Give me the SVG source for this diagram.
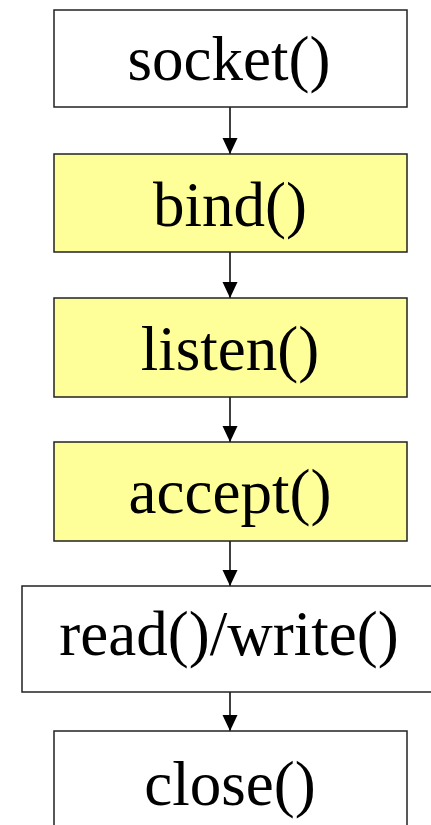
<svg xmlns="http://www.w3.org/2000/svg" width="431" height="825" viewBox="0 0 431 825">
<style>
.box{stroke:#222;stroke-width:1.5}
.w{fill:#fff}
.y{fill:#ffff99}
.t{font-family:"Liberation Serif","Times New Roman",serif;font-size:63px;fill:#000;text-anchor:middle}
.c{stroke:#000;stroke-width:1.5;fill:none;marker-end:url(#ah)}
</style>
<defs>
<marker id="ah" markerUnits="userSpaceOnUse" markerWidth="17" markerHeight="18" refX="16" refY="7.5" orient="auto">
<path d="M0,0 L16,7.5 L0,15 Z" fill="#000"/>
</marker>
</defs>
<rect width="431" height="825" fill="#fff"/>
<g id="connectors">
<line class="c" x1="230" y1="107" x2="230" y2="154"/>
<line class="c" x1="230" y1="252" x2="230" y2="298"/>
<line class="c" x1="230" y1="397" x2="230" y2="442"/>
<line class="c" x1="230" y1="541" x2="230" y2="586"/>
<line class="c" x1="230" y1="692" x2="230" y2="731"/>
</g>
<g id="socket"><rect class="box w" x="54" y="10" width="353" height="97"/><text class="t" x="229" y="80">socket()</text></g>
<g id="bind"><rect class="box y" x="54" y="154" width="353" height="98"/><text class="t" x="230" y="226">bind()</text></g>
<g id="listen"><rect class="box y" x="54" y="298" width="353" height="99"/><text class="t" x="230" y="370">listen()</text></g>
<g id="accept"><rect class="box y" x="54" y="442" width="353" height="99"/><text class="t" x="230" y="513">accept()</text></g>
<g id="readwrite"><rect class="box w" x="22" y="586" width="415" height="106"/><text class="t" x="229" y="655">read()/write()</text></g>
<g id="close"><rect class="box w" x="54" y="731" width="353" height="100"/><text class="t" x="230" y="805">close()</text></g>
</svg>
